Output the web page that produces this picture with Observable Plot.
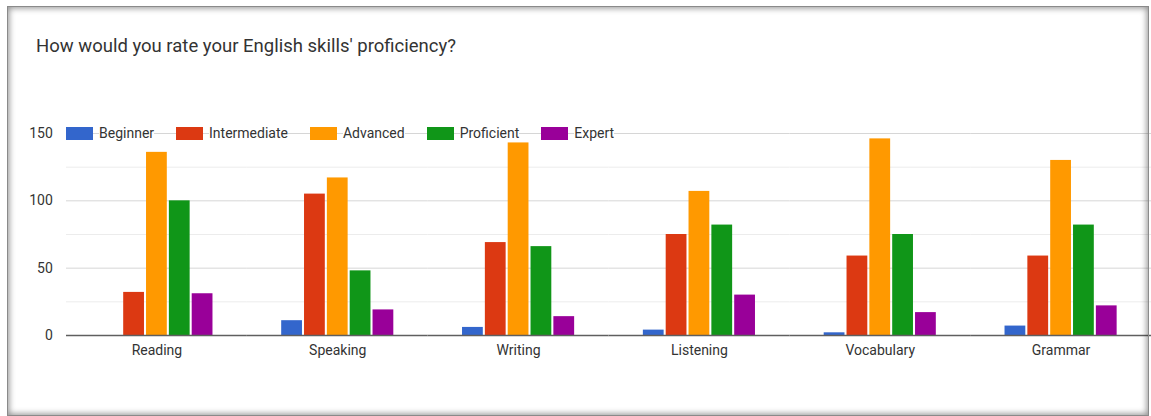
<!DOCTYPE html>
<html>
<head>
<meta charset="utf-8">
<script src="https://cdn.jsdelivr.net/npm/d3@7"></script>
<script src="https://cdn.jsdelivr.net/npm/@observablehq/plot@0.6"></script>
<style>
  html, body { margin: 0; padding: 0; background: #fff; width: 1151px; height: 416px; overflow: hidden; font-family: Roboto, Arial, sans-serif; }
  #wrap { position: relative; width: 1151px; height: 416px; }
  #chart { position: absolute; left: 0; top: 0; }
  #title { position: absolute; left: 36px; top: 35px; font-size: 18.5px; line-height: 22px; color: #333; white-space: nowrap; }
  #legend { position: absolute; left: 66px; top: 126px; height: 14px; display: flex; align-items: center; gap: 22px; font-size: 14px; color: #333; }
  #legend .item { display: flex; align-items: center; }
  #legend .sw { width: 27px; height: 13px; }
  #legend .lb { margin-left: 6px; background: #fff; line-height: 15px; }
  #card { position: absolute; left: 7px; top: 6px; width: 1140px; height: 408px; border: 1px solid #8a8a8a; box-shadow: inset 0 0 6px 1px rgba(0,0,0,0.45); pointer-events: none; }
</style>
</head>
<body>
<div id="wrap">
  <div id="chart"></div>
  <div id="title"></div>
  <div id="legend"></div>
  <div id="card"></div>
</div>
<script>
const titleText = "How would you rate your English skills' proficiency?";
const categories = ["Reading", "Speaking", "Writing", "Listening", "Vocabulary", "Grammar"];
const seriesNames = ["Beginner", "Intermediate", "Advanced", "Proficient", "Expert"];
const beginner     = [0, 11, 6, 4, 2, 7];
const intermediate = [32, 105, 69, 75, 59, 59];
const advanced     = [136, 117, 143, 107, 146, 130];
const proficient   = [100, 48, 66, 82, 75, 82];
const expert       = [31, 19, 14, 30, 17, 22];
const seriesColors = ["#3366cc", "#dc3912", "#ff9900", "#109618", "#990099"];
const yTicks = [0, 50, 100, 150];
const minorTicks = [25, 75, 125];
const majorTicks = [50, 100, 150];

const seriesValues = [beginner, intermediate, advanced, proficient, expert];
const rows = categories.flatMap((c, i) => seriesNames.map((s, j) => ({category: c, series: s, value: seriesValues[j][i]})));

document.getElementById("title").textContent = titleText;
const legend = document.getElementById("legend");
seriesNames.forEach((s, j) => {
  const item = document.createElement("div");
  item.className = "item";
  const sw = document.createElement("span");
  sw.className = "sw";
  sw.style.background = seriesColors[j];
  const lb = document.createElement("span");
  lb.className = "lb";
  lb.textContent = s;
  item.appendChild(sw); item.appendChild(lb);
  legend.appendChild(item);
});

function make(gridFacet, inset) {
  const gridOpts = gridFacet ? {facet: gridFacet} : {insetLeft: inset, insetRight: inset};
  return Plot.plot({
    width: 1151, height: 416,
    marginLeft: 66, marginRight: 0, marginTop: 133, marginBottom: 81,
    style: {fontFamily: "Roboto, Arial, sans-serif", fontSize: "14px", color: "#333", background: "transparent", overflow: "visible"},
    facet: {data: rows, x: "category"},
    fx: {domain: categories, paddingInner: 0.38, paddingOuter: 0.19, round: false, label: null, axis: "bottom", tickSize: 0, tickPadding: 10},
    x: {domain: seriesNames, paddingInner: 0.09, paddingOuter: 0, round: false, axis: null},
    y: {domain: [0, 150], ticks: yTicks, tickSize: 0, tickPadding: 48, label: null},
    color: {domain: seriesNames, range: seriesColors},
    marks: [
      Plot.ruleY(minorTicks, {stroke: "#ececec", strokeWidth: 1, ...gridOpts}),
      Plot.ruleY(majorTicks, {stroke: "#d6d6d6", strokeWidth: 1, ...gridOpts}),
      Plot.barY(rows, {x: "series", y: "value", fill: "series"}),
      Plot.ruleY([0], {stroke: "#5f5f5f", strokeWidth: 1.6, ...gridOpts})
    ]
  });
}
let chart;
try { chart = make("super"); } catch (e) { chart = make(null, -34.35); }
document.getElementById("chart").appendChild(chart);
</script>
</body>
</html>
